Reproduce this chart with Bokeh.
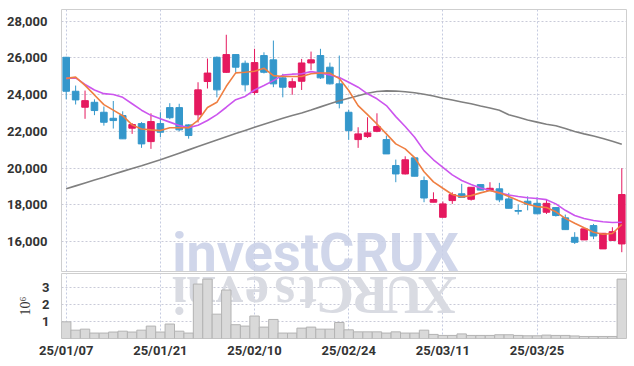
from math import pi
from bokeh.plotting import figure
from bokeh.layouts import column
from bokeh.models import FixedTicker, NumeralTickFormatter, Label, Range1d, ColumnDataSource
from bokeh.embed import file_html
from bokeh.resources import INLINE

# ---------------- data ----------------
dates = ["25/01/07", "25/01/08", "25/01/09", "25/01/10", "25/01/13", "25/01/14", "25/01/15", "25/01/16",
         "25/01/17", "25/01/20", "25/01/21", "25/01/22", "25/01/23", "25/01/24", "25/01/31", "25/02/03",
         "25/02/04", "25/02/05", "25/02/06", "25/02/07", "25/02/10", "25/02/11", "25/02/12", "25/02/13",
         "25/02/14", "25/02/17", "25/02/18", "25/02/19", "25/02/20", "25/02/21", "25/02/24", "25/02/25",
         "25/02/26", "25/02/27", "25/02/28", "25/03/04", "25/03/05", "25/03/06", "25/03/07", "25/03/10",
         "25/03/11", "25/03/12", "25/03/13", "25/03/14", "25/03/17", "25/03/18", "25/03/19", "25/03/20",
         "25/03/21", "25/03/24", "25/03/25", "25/03/26", "25/03/27", "25/03/28", "25/03/31", "25/04/01",
         "25/04/02", "25/04/03", "25/04/04", "25/04/07"]

opens = [26030, 24180, 23310, 23580, 23037, 22710, 22857, 22170, 22420, 21440,
         22420, 23290, 23290, 22350, 22900, 24710, 26030, 25210, 26177, 25705,
         24110, 26123, 25890, 24910, 24400, 24724, 25720, 26123, 25490, 24583,
         23037, 21550, 21715, 22000, 21550, 20136, 19680, 20555, 19320, 18140,
         17320, 18230, 18600, 18300, 19100, 18775, 18870, 18320, 17690, 18195,
         18080, 17595, 17850, 17290, 16230, 16090, 16870, 15600, 16060, 15870]
closes = [24180, 23710, 23670, 23130, 22492, 22585, 21590, 22367, 21315, 22530,
          21950, 22740, 22080, 21770, 24256, 25170, 24256, 26177, 25490, 24530,
          25740, 25213, 24583, 24400, 24700, 25720, 25890, 24910, 24583, 23530,
          22040, 21860, 21915, 22260, 20770, 19680, 20450, 19555, 18370, 18285,
          18050, 18560, 18400, 18955, 18800, 18900, 18270, 17810, 17650, 18030,
          17510, 18080, 17415, 16650, 15960, 16690, 16300, 16450, 16540, 18560]
highs = [26050, 24490, 24218, 23740, 23350, 23650, 23090, 22450, 22500, 22980,
         23040, 23530, 23500, 22380, 24670, 25960, 26070, 27255, 26180, 25850,
         26490, 26300, 26940, 25130, 24890, 25940, 26340, 26490, 25740, 26123,
         23170, 22220, 22765, 22980, 21770, 20460, 20640, 20600, 19540, 18680,
         18180, 18680, 19140, 18960, 19100, 19230, 19195, 18650, 18010, 18460,
         18410, 18270, 17870, 17470, 16510, 16690, 16960, 16450, 16780, 19990]
lows = [23740, 23460, 22680, 22880, 22310, 22150, 21590, 21860, 21100, 21045,
        21680, 22660, 22000, 21600, 22480, 24330, 23850, 25180, 25200, 24170,
        23990, 25150, 24400, 23850, 23990, 24250, 25340, 24850, 24550, 23250,
        21535, 21100, 21640, 21950, 20770, 19230, 19650, 19555, 18140, 18140,
        17320, 18050, 18380, 18230, 18800, 18750, 18140, 17810, 17470, 17700,
        17510, 17500, 17360, 16650, 15870, 16090, 16130, 15600, 16040, 15420]
volumes = [980000, 490000, 550000, 320000, 320000, 380000, 430000, 380000, 490000, 730000,
           380000, 850000, 430000, 320000, 3200000, 3490000, 1430000, 2850000, 810000, 730000,
           1320000, 670000, 1120000, 320000, 320000, 610000, 670000, 550000, 550000, 940000,
           510000, 390000, 390000, 390000, 320000, 390000, 320000, 320000, 490000, 240000,
           180000, 180000, 270000, 180000, 180000, 180000, 220000, 220000, 180000, 160000,
           160000, 200000, 180000, 180000, 150000, 120000, 120000, 120000, 120000, 3490000]
ma_short = [24880, 24950, 24500, 23980, 23450, 23150, 22850, 22350, 22130, 22080,
            22040, 22190, 22190, 22200, 22590, 23300, 23580, 24450, 25180, 25213,
            25270, 25435, 25030, 24980, 24980, 24980, 25130, 25170, 25170, 24870,
            24220, 23400, 22910, 22400, 21860, 21315, 21045, 20570, 19800, 19250,
            18900, 18560, 18430, 18500, 18650, 18775, 18650, 18450, 18230, 18030,
            17900, 17850, 17620, 17260, 17000, 16750, 16510, 16400, 16440, 16930]
ma_mid = [24880, 24910, 24550, 24250, 24050, 24000, 23850, 23500, 23150, 22870,
          22680, 22500, 22320, 22200, 22330, 22590, 22910, 23310, 23720, 23900,
          24250, 24490, 24760, 25060, 25110, 25130, 25250, 25170, 25070, 24930,
          24670, 24400, 24040, 23770, 23400, 22800, 22260, 21680, 20950, 20450,
          20040, 19630, 19320, 19100, 18920, 18790, 18650, 18530, 18450, 18380,
          18340, 18280, 18050, 17700, 17420, 17250, 17150, 17080, 17040, 17050]
ma_long = [18870, 19030, 19190, 19350, 19500, 19660, 19820, 19980, 20130, 20290,
           20450, 20630, 20810, 20990, 21170, 21350, 21530, 21710, 21880, 22050,
           22220, 22390, 22550, 22710, 22860, 23000, 23160, 23330, 23500, 23660,
           23800, 23940, 24070, 24170, 24200, 24190, 24150, 24100, 24020, 23920,
           23800, 23700, 23600, 23500, 23380, 23270, 23150, 22900, 22760, 22620,
           22500, 22380, 22300, 22150, 21990, 21860, 21740, 21610, 21460, 21300]
price_ticks = [16000, 18000, 20000, 22000, 24000, 26000, 28000]
vol_ticks = [1, 2, 3]
date_ticks = [0, 10, 20, 30, 40, 50]

# ---------------- style ----------------
UP = "#e5195f"
DOWN = "#3497cb"
LABEL_FONT = "Roboto"
idx = list(range(len(dates)))
colors = [UP if c >= o else DOWN for o, c in zip(opens, closes)]
src = ColumnDataSource(dict(
    x=idx, open=opens, close=closes, high=highs, low=lows,
    top=[max(o, c) for o, c in zip(opens, closes)],
    bottom=[min(o, c) for o, c in zip(opens, closes)],
    color=colors, ma_s=ma_short, ma_m=ma_mid, ma_l=ma_long,
    vol=[v / 1e6 for v in volumes],
))

FRAME_L = 61
PX_PER_UNIT = 565 / 60.0
xr = Range1d(-0.5, len(dates) - 0.5)
Y0, Y1 = 14370, 28630
PRICE_PX = 262 / (Y1 - Y0)      # pixels per price unit in the main frame
VOL_TOP = 3.82
VOL_PX = 65 / VOL_TOP           # pixels per volume unit in the volume frame

p1 = figure(width=630, height=272, x_range=xr, y_range=Range1d(Y0, Y1),
            output_backend="svg", toolbar_location=None,
            min_border_left=FRAME_L, min_border_right=4, min_border_top=9, min_border_bottom=1)
p1.background_fill_color = "white"
p1.outline_line_color = "#cfcfcf"
p1.xaxis.visible = False
p1.xgrid.ticker = FixedTicker(ticks=date_ticks)
p1.xgrid.grid_line_color = "#c5cbe0"
p1.xgrid.grid_line_dash = "2 2"
p1.ygrid.grid_line_color = "#c9cad8"
p1.ygrid.grid_line_dash = "2 2"
p1.yaxis.ticker = FixedTicker(ticks=price_ticks)
p1.yaxis.formatter = NumeralTickFormatter(format="0,0")
p1.yaxis.axis_line_color = None
p1.yaxis.major_tick_line_color = None
p1.yaxis.minor_tick_line_color = None
p1.yaxis.major_label_standoff = 8
p1.yaxis.major_label_text_font = LABEL_FONT
p1.yaxis.major_label_text_font_size = "13px"
p1.yaxis.major_label_text_font_style = "bold"
p1.yaxis.major_label_text_color = "#333333"

# watermark: middle of text 19px above the frame bottom
wm = Label(x=(315 - FRAME_L) / PX_PER_UNIT - 0.5, y=Y0 + 19 / PRICE_PX, text="investCRUX",
           text_align="center", text_baseline="middle", text_font="Roboto", text_font_size="54px",
           text_font_style="bold", text_color="#c8cfe6", text_alpha=0.85)
p1.add_layout(wm)

p1.segment(x0="x", y0="low", x1="x", y1="high", color="color", line_width=1, source=src)
p1.vbar(x="x", width=0.7, top="top", bottom="bottom", fill_color="color", line_color="color",
        line_width=1, source=src)
p1.line("x", "ma_l", color="#808080", line_width=1.6, source=src)
p1.line("x", "ma_m", color="#cc55ee", line_width=1.6, source=src)
p1.line("x", "ma_s", color="#ef7f42", line_width=1.6, source=src)

p2 = figure(width=630, height=90, x_range=xr, y_range=Range1d(0, VOL_TOP),
            output_backend="svg", toolbar_location=None,
            min_border_left=FRAME_L, min_border_right=4, min_border_top=1, min_border_bottom=24)
p2.outline_line_color = "#cfcfcf"
p2.xgrid.grid_line_color = "#c5cbe0"
p2.xgrid.grid_line_dash = "2 2"
p2.ygrid.grid_line_color = "#c9cad8"
p2.ygrid.grid_line_dash = "2 2"

# reflected watermark, letter by letter (each letter turned over)
letters = list("investCRUX")
letter_px = [179, 201, 229, 256.5, 284.5, 307.5, 334, 368.5, 403, 437]
p2.text(x=[(px - FRAME_L) / PX_PER_UNIT - 0.5 for px in letter_px],
        y=[VOL_TOP - 21 / VOL_PX] * len(letters),
        text=letters, angle=pi, text_align="center", text_baseline="middle", text_font="Roboto",
        text_font_size="54px", text_font_style="bold", text_color="#d9dbe2", text_alpha=1.0)

p2.vbar(x="x", width=1.0, top="vol", bottom=0, fill_color="#d9d9d9", line_color="#b3b3b3",
        line_width=1, source=src)

p2.xaxis.ticker = FixedTicker(ticks=date_ticks)
p2.xaxis.major_label_overrides = {t: dates[t] for t in date_ticks}
p2.xaxis.axis_line_color = None
p2.xaxis.major_tick_line_color = None
p2.xaxis.minor_tick_line_color = None
p2.xaxis.major_tick_out = 0
p2.xaxis.major_label_standoff = 4
p2.xaxis.major_label_text_font = LABEL_FONT
p2.xaxis.major_label_text_font_size = "13px"
p2.xaxis.major_label_text_font_style = "bold"
p2.xaxis.major_label_text_color = "#333333"

p2.yaxis.ticker = FixedTicker(ticks=vol_ticks)
p2.yaxis.axis_line_color = None
p2.yaxis.major_tick_line_color = None
p2.yaxis.minor_tick_line_color = None
p2.yaxis.major_label_standoff = 6
p2.yaxis.major_label_text_font = LABEL_FONT
p2.yaxis.major_label_text_font_size = "13px"
p2.yaxis.major_label_text_font_style = "bold"
p2.yaxis.major_label_text_color = "#333333"
p2.yaxis.axis_label = "10\u2076"
p2.yaxis.axis_label_text_font = "Liberation Serif"
p2.yaxis.axis_label_text_font_size = "14px"
p2.yaxis.axis_label_text_font_style = "normal"
p2.yaxis.axis_label_text_color = "#333333"
p2.yaxis.axis_label_standoff = 6

layout = column(p1, p2, spacing=0)
open("out.html", "w").write(file_html(layout, INLINE))
